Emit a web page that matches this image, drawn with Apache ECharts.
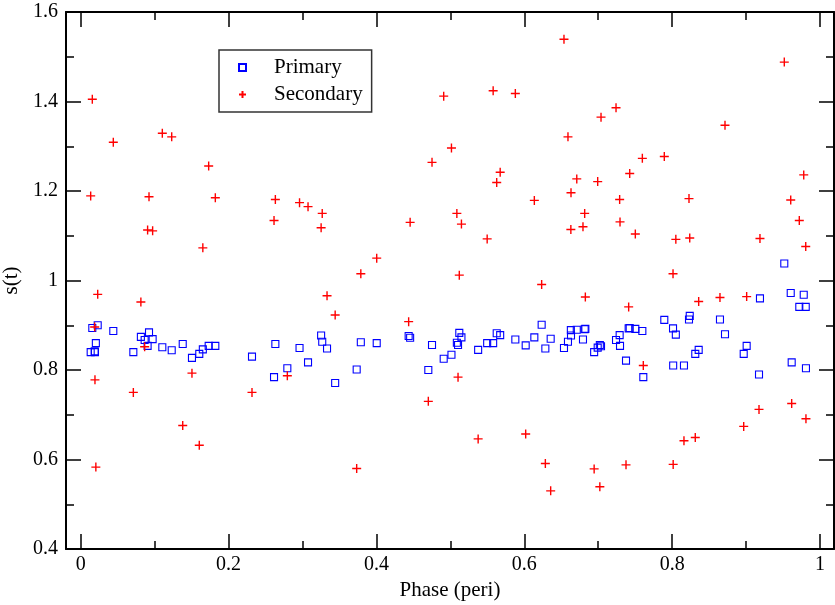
<!DOCTYPE html>
<html>
<head>
<meta charset="utf-8">
<script src="https://cdn.jsdelivr.net/npm/echarts@6/dist/echarts.min.js"></script>
<style>
html,body{margin:0;padding:0;background:#fff;}
#chart{width:835px;height:605px;}
</style>
</head>
<body>
<div id="chart"></div>
<script>
// Orbital phase of each observation
var phase = [
  0.0135, 0.0157, 0.0189, 0.0193, 0.0205, 0.0230, 0.0441, 0.0712, 0.0814, 0.0865,
  0.0905, 0.0924, 0.0973, 0.1104, 0.1231, 0.1380, 0.1505, 0.1604, 0.1652, 0.1731,
  0.1821, 0.2317, 0.2615, 0.2633, 0.2795, 0.2960, 0.3075, 0.3252, 0.3267, 0.3332,
  0.3442, 0.3733, 0.3789, 0.4004, 0.4436, 0.4456, 0.4702, 0.4752, 0.4910, 0.5015,
  0.5088, 0.5104, 0.5121, 0.5150, 0.5376, 0.5498, 0.5579, 0.5627, 0.5674, 0.5879,
  0.6019, 0.6136, 0.6235, 0.6285, 0.6357, 0.6537, 0.6591, 0.6632, 0.6630, 0.6710,
  0.6794, 0.6817, 0.6826, 0.6945, 0.6993, 0.7022, 0.7038, 0.7241, 0.7290, 0.7295,
  0.7376, 0.7412, 0.7426, 0.7502, 0.7597, 0.7610, 0.7894, 0.8012, 0.8014, 0.8050,
  0.8160, 0.8228, 0.8238, 0.8313, 0.8359, 0.8647, 0.8715, 0.8968, 0.9008, 0.9175,
  0.9188, 0.9517, 0.9604, 0.9617, 0.9720, 0.9780, 0.9807, 0.9810
];
var primary = [
  0.840, 0.894, 0.842, 0.840, 0.860, 0.900, 0.887, 0.840, 0.874, 0.867,
  0.854, 0.884, 0.869, 0.851, 0.844, 0.858, 0.827, 0.836, 0.846, 0.854,
  0.854, 0.830, 0.784, 0.858, 0.804, 0.849, 0.817, 0.877, 0.863, 0.848,
  0.771, 0.801, 0.862, 0.860, 0.876, 0.872, 0.800, 0.856, 0.825, 0.834,
  0.861, 0.856, 0.883, 0.873, 0.845, 0.860, 0.860, 0.882, 0.878, 0.868,
  0.855, 0.873, 0.901, 0.848, 0.870, 0.849, 0.863, 0.877, 0.889, 0.890,
  0.868, 0.891, 0.892, 0.840, 0.850, 0.856, 0.853, 0.867, 0.878, 0.854,
  0.821, 0.893, 0.894, 0.892, 0.887, 0.784, 0.912, 0.893, 0.810, 0.879,
  0.810, 0.913, 0.921, 0.836, 0.845, 0.913, 0.880, 0.836, 0.854, 0.790,
  0.960, 1.038, 0.972, 0.817, 0.941, 0.968, 0.941, 0.804
];
var secondary = [
  1.189, 1.405, 0.896, 0.778, 0.583, 0.969, 1.309, 0.750, 0.952, 0.852,
  1.113, 1.187, 1.111, 1.329, 1.321, 0.676, 0.793, 0.632, 1.073, 1.256,
  1.185, 0.750, 1.134, 1.181, 0.787, 1.174, 1.165, 1.118, 1.150, 0.966,
  0.923, 0.580, 1.015, 1.050, 0.908, 1.130, 0.730, 1.264, 1.412, 1.296,
  1.150, 0.784, 1.012, 1.126, 0.646, 1.093, 1.424, 1.219, 1.242, 1.418,
  0.657, 1.179, 0.991, 0.591, 0.530, 1.539, 1.321, 1.196, 1.114, 1.227,
  1.120, 1.150, 0.963, 0.579, 1.221, 0.539, 1.365, 1.386, 1.181, 1.131,
  0.588, 0.941, 1.239, 1.104, 1.273, 0.810, 1.277, 1.015, 0.589, 1.092,
  0.642, 1.183, 1.095, 0.649, 0.953, 0.962, 1.347, 0.674, 0.964, 0.712,
  1.094, 1.488, 1.180, 0.725, 1.134, 1.236, 1.076, 0.691
];
var seriesNames = ['Primary', 'Secondary'];
var xTitle = 'Phase (peri)';
var yTitle = 's(t)';

var FONT = "'Liberation Serif', 'DejaVu Serif', serif";

function pairs(xs, ys) {
  var out = [];
  for (var i = 0; i < xs.length; i++) out.push([xs[i], ys[i]]);
  return out;
}

var lineStyle = { color: '#000', width: 2 };
var tickStyle = { color: '#000', width: 1.5 };

var chart = echarts.init(document.getElementById('chart'), null, { renderer: 'canvas' });
chart.setOption({
  animation: false,
  backgroundColor: '#fff',
  legend: {
    orient: 'vertical',
    left: 219,
    top: 50,
    padding: [7, 9, 7, 19],
    itemWidth: 7,
    itemHeight: 7,
    itemGap: 6,
    borderColor: '#333',
    borderWidth: 1.5,
    backgroundColor: '#fff',
    textStyle: { fontFamily: FONT, fontSize: 21, color: '#000', padding: [0, 0, 0, 23] },
    data: seriesNames
  },
  grid: [
    { left: 66, top: 12, width: 768, height: 537, containLabel: false, outerBoundsMode: 'none' },
    { left: 80.7, top: 12, width: 739.3, height: 537, containLabel: false, outerBoundsMode: 'none' }
  ],
  xAxis: [
    { gridIndex: 0, type: 'value', min: -0.02, max: 1.02, position: 'bottom',
      axisLine: { show: true, onZero: false, lineStyle: lineStyle },
      axisTick: { show: false }, axisLabel: { show: false }, splitLine: { show: false },
      name: xTitle, nameLocation: 'middle', nameGap: 31,
      nameTextStyle: { fontFamily: FONT, fontSize: 21, color: '#000' } },
    { gridIndex: 0, type: 'value', min: -0.02, max: 1.02, position: 'top',
      axisLine: { show: true, onZero: false, lineStyle: lineStyle },
      axisTick: { show: false }, axisLabel: { show: false }, splitLine: { show: false } },
    { gridIndex: 1, type: 'value', min: 0, max: 1, interval: 0.2, position: 'bottom',
      axisLine: { show: false, onZero: false },
      axisTick: { show: true, inside: true, length: 15, lineStyle: tickStyle },
      minorTick: { show: true, splitNumber: 2, length: 8, lineStyle: tickStyle },
      axisLabel: { show: true, margin: 6, fontFamily: FONT, fontSize: 20, color: '#000' },
      splitLine: { show: false } },
    { gridIndex: 1, type: 'value', min: 0, max: 1, interval: 0.2, position: 'top',
      axisLine: { show: false, onZero: false },
      axisTick: { show: true, inside: true, length: 15, lineStyle: tickStyle },
      minorTick: { show: true, splitNumber: 2, length: 8, lineStyle: tickStyle },
      axisLabel: { show: false }, splitLine: { show: false } }
  ],
  yAxis: [
    { gridIndex: 0, type: 'value', min: 0.4, max: 1.6, interval: 0.2, position: 'left',
      axisLine: { show: true, onZero: false, lineStyle: lineStyle },
      axisTick: { show: true, inside: true, length: 15, lineStyle: tickStyle },
      minorTick: { show: true, splitNumber: 2, length: 8, lineStyle: tickStyle },
      axisLabel: { show: true, margin: 8, fontFamily: FONT, fontSize: 20, color: '#000' },
      splitLine: { show: false },
      name: yTitle, nameLocation: 'middle', nameGap: 42, nameRotate: 90,
      nameTextStyle: { fontFamily: FONT, fontSize: 21, color: '#000' } },
    { gridIndex: 0, type: 'value', min: 0.4, max: 1.6, interval: 0.2, position: 'right',
      axisLine: { show: true, onZero: false, lineStyle: lineStyle },
      axisTick: { show: true, inside: true, length: 15, lineStyle: tickStyle },
      minorTick: { show: true, splitNumber: 2, length: 8, lineStyle: tickStyle },
      axisLabel: { show: false }, splitLine: { show: false } },
    { gridIndex: 1, type: 'value', min: 0.4, max: 1.6, show: false,
      axisLine: { onZero: false }, splitLine: { show: false } }
  ],
  series: [
    { name: seriesNames[0], type: 'scatter', xAxisIndex: 2, yAxisIndex: 2,
      symbol: 'rect', symbolSize: 7,
      itemStyle: { color: 'rgba(0,0,0,0)', borderColor: '#0000ff', borderWidth: 1.1, opacity: 1 },
      emphasis: { disabled: true },
      data: pairs(phase, primary) },
    { name: seriesNames[1], type: 'scatter', xAxisIndex: 2, yAxisIndex: 2,
      symbol: 'path://M5,0L5,10M0,5L10,5', symbolSize: 9,
      itemStyle: { color: 'rgba(0,0,0,0)', borderColor: '#ff0000', borderWidth: 1.4, opacity: 1 },
      emphasis: { disabled: true },
      data: pairs(phase, secondary) }
  ]
});
</script>
</body>
</html>
